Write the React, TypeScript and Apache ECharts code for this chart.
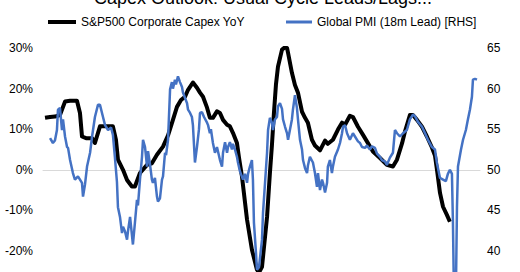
import React, { useEffect, useRef } from "react";
import * as echarts from "echarts";

const titleText = "Capex Outlook: Usual Cycle Leads/Lags...";
const capexName = "S&P500 Corporate Capex YoY";
const pmiName = "Global PMI (18m Lead) [RHS]";

const leftTicks = { min: -30, max: 30, interval: 10 };
const rightTicks = { min: 35, max: 65, interval: 5 };

// decimal years
const capexDates = [
  1997.12, 1997.42, 1997.71, 1998.01, 1998.31, 1998.61, 1999.02, 1999.2, 1999.32, 1999.56,
  1999.92, 2000.09, 2000.39, 2000.69, 2001.16, 2001.34, 2001.46, 2001.76, 2002.0, 2002.29,
  2002.47, 2002.77, 2003.19, 2003.48, 2003.78, 2004.14, 2004.44, 2004.67, 2004.97, 2005.21,
  2005.45, 2005.63, 2005.92, 2006.16, 2006.34, 2006.52, 2006.76, 2006.93, 2007.11, 2007.35,
  2007.53, 2007.71, 2007.95, 2008.12, 2008.3, 2008.54, 2008.66, 2008.84, 2009.14, 2009.43,
  2009.73, 2009.85, 2010.03, 2010.33, 2010.5, 2010.62, 2010.74, 2010.86, 2010.98, 2011.22,
  2011.4, 2011.52, 2011.58, 2011.81, 2011.99, 2012.17, 2012.41, 2012.59, 2012.76, 2013.0,
  2013.18, 2013.48, 2013.78, 2013.95, 2014.25, 2014.55, 2014.79, 2014.97, 2015.26, 2015.44,
  2015.74, 2016.04, 2016.27, 2016.63, 2017.05, 2017.46, 2017.82, 2018.06, 2018.36, 2018.54,
  2018.83, 2019.01, 2019.25, 2019.55, 2019.84, 2020.14, 2020.32, 2020.44, 2020.62, 2020.8,
  2021.03, 2021.21,
];
const capexYoY = [
  12.8, 13.0, 13.1, 13.5, 16.8, 17.0, 17.0, 14.0, 8.2, 7.8,
  7.8, 6.6, 10.7, 10.7, 10.7, 7.4, 2.5, 0, -2.5, -4.1,
  -4.1, -0.8, 1.2, 1.6, 3.7, 5.7, 8.5, 11.5, 15.5, 17.2,
  18.0, 19.7, 21.5, 20.2, 19.0, 18.0, 15.3, 12.8, 12.8, 14.4,
  14.0, 12.3, 11.1, 10.7, 9.1, 6.6, 3.0, -1.7, -12.3, -19.7,
  -24.6, -25.3, -23.9, -11.6, -0.8, 6.0, 14.0, 21.0, 25.4, 29.6,
  30.2, 30.0, 28.8, 23.9, 20.9, 19.0, 14.3, 12.8, 11.6, 7.4,
  6.0, 4.8, 7.2, 6.4, 7.4, 9.9, 11.6, 11.1, 13.3, 13.0,
  10.6, 8.6, 7.0, 4.5, 2.9, 1.2, 0.8, 2.5, 6.5, 9.5,
  13.5, 13.5, 12.3, 10.6, 8.2, 5.5, 3.5, 0, -5.7, -9.1,
  -11.1, -12.8,
];

const pmiDates = [
  1997.42, 1997.59, 1997.71, 1997.83, 1997.89, 1998.01, 1998.13, 1998.19, 1998.31, 1998.43,
  1998.49, 1998.61, 1998.78, 1998.9, 1999.08, 1999.32, 1999.38, 1999.5, 1999.62, 1999.8,
  1999.92, 2000.09, 2000.27, 2000.39, 2000.57, 2000.69, 2000.87, 2001.05, 2001.16, 2001.28,
  2001.4, 2001.46, 2001.58, 2001.7, 2001.76, 2001.88, 2002.0, 2002.06, 2002.18, 2002.24,
  2002.35, 2002.47, 2002.59, 2002.65, 2002.77, 2002.89, 2002.95, 2003.07, 2003.19, 2003.25,
  2003.37, 2003.48, 2003.54, 2003.66, 2003.78, 2003.84, 2003.96, 2004.08, 2004.14, 2004.26,
  2004.32, 2004.44, 2004.56, 2004.67, 2004.73, 2004.85, 2004.91, 2005.03, 2005.15, 2005.27,
  2005.33, 2005.57, 2005.63, 2005.75, 2005.86, 2005.92, 2006.04, 2006.16, 2006.28, 2006.34,
  2006.46, 2006.58, 2006.76, 2006.82, 2006.93, 2006.99, 2007.11, 2007.23, 2007.35, 2007.53,
  2007.65, 2007.71, 2007.83, 2007.95, 2008.01, 2008.12, 2008.24, 2008.3, 2008.42, 2008.54,
  2008.6, 2008.72, 2008.9, 2009.02, 2009.14, 2009.2, 2009.31, 2009.43, 2009.49, 2009.55,
  2009.67, 2009.73, 2009.85, 2010.03, 2010.09, 2010.21, 2010.33, 2010.39, 2010.5, 2010.62,
  2010.68, 2010.8, 2010.92, 2010.98, 2011.1, 2011.22, 2011.28, 2011.4, 2011.52, 2011.58,
  2011.69, 2011.81, 2011.87, 2011.99, 2012.11, 2012.17, 2012.29, 2012.41, 2012.47, 2012.59,
  2012.71, 2012.76, 2012.88, 2013.06, 2013.18, 2013.3, 2013.36, 2013.48, 2013.6, 2013.66,
  2013.78, 2013.9, 2013.95, 2014.07, 2014.19, 2014.25, 2014.37, 2014.55, 2014.67, 2014.79,
  2014.85, 2014.97, 2015.09, 2015.26, 2015.44, 2015.56, 2015.74, 2015.86, 2015.98, 2016.16,
  2016.27, 2016.45, 2016.57, 2016.75, 2016.87, 2017.05, 2017.17, 2017.35, 2017.46, 2017.64,
  2017.82, 2017.94, 2018.06, 2018.24, 2018.42, 2018.65, 2018.83, 2019.01, 2019.13, 2019.31,
  2019.55, 2019.73, 2019.9, 2020.14, 2020.32, 2020.44, 2020.62, 2020.8, 2020.97, 2021.09,
  2021.21, 2021.33, 2021.39, 2021.51, 2021.63, 2021.69, 2021.87, 2021.99, 2022.16, 2022.28,
  2022.4, 2022.52, 2022.58, 2022.7, 2022.82,
];
const pmiLead = [
  53.9, 53.3, 53.6, 54.9, 57.4, 57.6, 54.9, 56.2, 54.1, 52.8,
  52.7, 51.2, 49.6, 48.8, 49.2, 48.4, 46.7, 48.2, 50.4, 52.1,
  54.1, 56.5, 58.0, 58.0, 56.5, 55.5, 54.9, 55.2, 54.3, 51.5,
  48.5, 45.4, 44.2, 42.2, 43.0, 42.4, 41.4, 42.5, 44.2, 43.0,
  40.8, 43.5, 46.3, 45.6, 48.8, 51.6, 53.7, 52.8, 50.4, 52.3,
  50.6, 48.8, 48.4, 49.0, 46.7, 46.1, 46.5, 48.8, 49.2, 52.1,
  51.8, 53.7, 59.9, 60.8, 60.0, 61.1, 60.5, 61.5, 60.8, 60.2,
  59.5, 58.2, 57.4, 57.0, 56.5, 55.5, 50.9, 52.8, 55.0, 57.0,
  57.1, 56.5, 55.8, 55.5, 54.5, 55.0, 53.3, 52.1, 52.8, 51.2,
  50.4, 52.1, 53.4, 52.1, 52.8, 53.4, 52.5, 53.2, 52.5, 51.6,
  50.9, 49.8, 48.8, 49.5, 48.4, 49.5, 50.4, 51.2, 48.8, 43.5,
  39.8, 37.7, 38.0, 41.4, 44.7, 48.4, 52.1, 54.9, 56.4, 55.8,
  54.9, 56.2, 56.5, 57.8, 58.2, 57.5, 56.2, 55.3, 54.5, 53.7,
  54.9, 56.2, 57.4, 59.2, 57.6, 56.2, 53.7, 52.5, 51.2, 50.2,
  49.6, 50.5, 51.6, 50.9, 49.6, 47.9, 49.6, 47.5, 48.8, 48.4,
  47.2, 48.4, 50.4, 51.2, 49.6, 50.4, 51.6, 52.5, 53.3, 54.5,
  55.3, 55.5, 54.5, 53.7, 54.5, 54.1, 53.5, 53.3, 52.8, 52.7,
  53.0, 52.5, 52.9, 52.7, 52.0, 51.6, 51.2, 51.0, 50.6, 51.5,
  52.1, 54.9, 54.5, 54.1, 54.5, 54.9, 56.2, 56.8, 56.6, 55.9,
  55.3, 54.5, 53.7, 52.8, 52.5, 50.8, 49.0, 48.8, 48.6, 49.5,
  50.0, 49.5, 43.5, 26.0, 45.4, 50.4, 52.5, 53.7, 54.9, 56.2,
  57.4, 59.0, 61.1, 61.2, 61.1,
];

const FONT = "'Liberation Sans', Arial, sans-serif";
const BLUE = "#4472c4";

export default function App() {
  const ref = useRef<HTMLDivElement>(null);
  useEffect(() => {
    if (!ref.current) return;
    const chart = echarts.init(ref.current, undefined, { renderer: "svg" });
    chart.setOption({
      animation: false,
      backgroundColor: "#ffffff",
      textStyle: { fontFamily: FONT },
      graphic: [
        {
          type: "text",
          x: 263,
          y: -2,
          style: {
            text: titleText,
            font: `18px ${FONT}`,
            fill: "#000",
            align: "center",
            verticalAlign: "middle",
          },
        },
      ],
      legend: [
        {
          data: [capexName],
          left: 48,
          top: 16,
          padding: 0,
          icon: "rect",
          itemWidth: 28,
          itemHeight: 4,
          textStyle: { fontSize: 12, color: "#000", fontFamily: FONT },
        },
        {
          data: [pmiName],
          left: 286,
          top: 16,
          padding: 0,
          icon: "rect",
          itemWidth: 26,
          itemHeight: 3,
          textStyle: { fontSize: 12, color: "#000", fontFamily: FONT },
        },
      ],
      grid: {
        left: 43,
        width: 437,
        top: 48,
        height: 243.6,
        containLabel: false,
        outerBoundsMode: "none",
      },
      xAxis: {
        type: "value",
        min: 1997,
        max: 2023,
        axisLabel: { show: false },
        axisTick: { show: false },
        splitLine: { show: false },
        axisLine: { show: true, onZero: true, lineStyle: { color: "#d9d9d9", width: 1 } },
      },
      yAxis: [
        {
          type: "value",
          min: leftTicks.min,
          max: leftTicks.max,
          interval: leftTicks.interval,
          axisLine: { show: false },
          axisTick: { show: false },
          splitLine: { show: false },
          axisLabel: {
            formatter: (v: number) => `${v}%`,
            fontSize: 12,
            color: "#000",
            margin: 10,
            fontFamily: FONT,
            showMinLabel: false,
          },
        },
        {
          type: "value",
          min: rightTicks.min,
          max: rightTicks.max,
          interval: rightTicks.interval,
          position: "right",
          axisLine: { show: false },
          axisTick: { show: false },
          splitLine: { show: false },
          axisLabel: {
            fontSize: 12,
            color: "#000",
            margin: 7,
            fontFamily: FONT,
            showMinLabel: false,
          },
        },
      ],
      series: [
        {
          name: capexName,
          type: "line",
          yAxisIndex: 0,
          showSymbol: false,
          color: "#000000",
          lineStyle: { width: 4, color: "#000000", join: "round" },
          data: capexDates.map((d, i) => [d, capexYoY[i]]),
          z: 2,
        },
        {
          name: pmiName,
          type: "line",
          yAxisIndex: 1,
          showSymbol: false,
          color: BLUE,
          lineStyle: { width: 2.5, color: BLUE },
          data: pmiDates.map((d, i) => [d, pmiLead[i]]),
          z: 3,
        },
      ],
    });
    return () => chart.dispose();
  }, []);
  return (
    <div
      ref={ref}
      style={{ position: "fixed", left: 0, top: 0, width: 520, height: 272 }}
    />
  );
}
